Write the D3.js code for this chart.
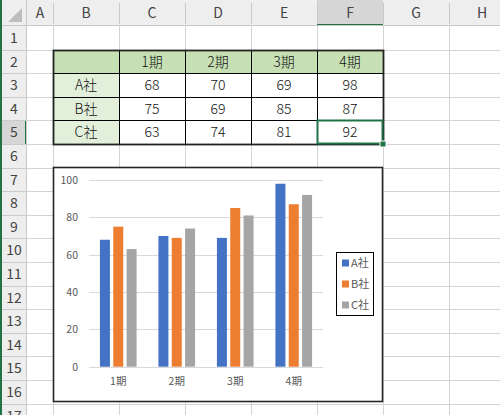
<!DOCTYPE html>
<html>
<head>
<meta charset="utf-8">
<script src="https://cdn.jsdelivr.net/npm/d3@7"></script>
<style>
  body { margin: 0; background: #fff; }
  svg text { font-family: "Noto Sans CJK JP", "Noto Sans", sans-serif; }
</style>
</head>
<body>
<svg id="sheet" width="500" height="415"></svg>
<script>
// data from the sheet
const periods = ['1期', '2期', '3期', '4期'];
const companies = ['A社', 'B社', 'C社'];
const valuesA = [68, 70, 69, 98];
const valuesB = [75, 69, 85, 87];
const valuesC = [63, 74, 81, 92];
const yTicks = [0, 20, 40, 60, 80, 100];
const colLetters = ['A', 'B', 'C', 'D', 'E', 'F', 'G', 'H'];
const rowNumbers = d3.range(1, 18);

const seriesValues = [valuesA, valuesB, valuesC];
const colors = ['#4472C4', '#ED7D31', '#A5A5A5'];

const svg = d3.select('#sheet');

// sheet grid geometry
const colEdges = [0, 27, 53, 119, 185, 251, 317, 383, 449, 515];
const headH = 26;
const rowH = 23.6;
const rowTop = i => headH + i * rowH;   // i = 0 -> row 1

// ---- cell gridlines ----
const grid = svg.append('g');
colEdges.slice(2).forEach(x => {
    grid.append('line').attr('x1', x + 0.5).attr('x2', x + 0.5)
        .attr('y1', headH).attr('y2', 415).attr('stroke', '#D4D4D4');
});
rowNumbers.forEach((r, i) => {
    grid.append('line').attr('x1', 27).attr('x2', 500)
        .attr('y1', Math.round(rowTop(i + 1)) + 0.5).attr('y2', Math.round(rowTop(i + 1)) + 0.5)
        .attr('stroke', '#D4D4D4');
});

// ---- headers ----
const head = svg.append('g');
head.append('rect').attr('x', 0).attr('y', 0).attr('width', 500).attr('height', headH).attr('fill', '#EEEEEE');
head.append('rect').attr('x', 0).attr('y', 0).attr('width', 27).attr('height', 415).attr('fill', '#EEEEEE');
// highlighted column F and row 5
head.append('rect').attr('x', colEdges[6]).attr('y', 0).attr('width', colEdges[7] - colEdges[6]).attr('height', headH).attr('fill', '#D6D6D6');
head.append('rect').attr('x', colEdges[6]).attr('y', headH - 2).attr('width', colEdges[7] - colEdges[6]).attr('height', 2).attr('fill', '#217346');
head.append('rect').attr('x', 0).attr('y', rowTop(4)).attr('width', 27).attr('height', rowH).attr('fill', '#D6D6D6');
head.append('rect').attr('x', 25).attr('y', rowTop(4)).attr('width', 2).attr('height', rowH).attr('fill', '#217346');

colLetters.forEach((c, i) => {
    const x0 = colEdges[i + 1], x1 = colEdges[i + 2];
    head.append('line').attr('x1', x1 + 0.5).attr('x2', x1 + 0.5).attr('y1', 3).attr('y2', headH - 2)
        .attr('stroke', '#CACACA');
    head.append('text').attr('x', (x0 + x1) / 2).attr('y', 18)
        .attr('text-anchor', 'middle').attr('font-size', 14).attr('fill', '#444')
        .text(c);
});
rowNumbers.forEach((r, i) => {
    head.append('line').attr('x1', 2).attr('x2', 26)
        .attr('y1', Math.round(rowTop(i + 1)) + 0.5).attr('y2', Math.round(rowTop(i + 1)) + 0.5)
        .attr('stroke', '#CACACA');
    // the last row is only half on screen, as in the sheet window
    head.append('text').attr('x', 14).attr('y', rowTop(i) + 17)
        .attr('text-anchor', 'middle').attr('font-size', 14).attr('fill', '#444')
        .text(r);
});
head.append('line').attr('x1', 0).attr('x2', 500).attr('y1', headH - 0.5).attr('y2', headH - 0.5).attr('stroke', '#C8C8C8');
head.append('line').attr('x1', 26.5).attr('x2', 26.5).attr('y1', 0).attr('y2', 415).attr('stroke', '#C8C8C8');
// corner triangle
head.append('path').attr('d', 'M22,8 L22,22 L8,22 Z').attr('fill', '#BDBDBD');
// window edge
head.append('rect').attr('x', 0).attr('y', 0).attr('width', 2).attr('height', 415).attr('fill', '#217346');

// ---- data table B2:F5 ----
const table = svg.append('g');
const tTop = Math.round(rowTop(1)), tBottom = Math.round(rowTop(5));
const rowEdges = d3.range(1, 6).map(i => Math.round(rowTop(i)));

// fills
table.append('rect').attr('x', colEdges[2]).attr('y', rowEdges[0])
    .attr('width', colEdges[7] - colEdges[2]).attr('height', rowEdges[1] - rowEdges[0]).attr('fill', '#C6E0B4');
table.append('rect').attr('x', colEdges[2]).attr('y', rowEdges[1])
    .attr('width', colEdges[3] - colEdges[2]).attr('height', rowEdges[4] - rowEdges[1]).attr('fill', '#E2EFDA');

// text
const cellText = (x, yy, t) => table.append('text').attr('x', x).attr('y', yy)
    .attr('text-anchor', 'middle').attr('font-size', 14).attr('font-weight', 300)
    .attr('fill', '#111').text(t);
periods.forEach((p, j) => {
    cellText((colEdges[3 + j] + colEdges[4 + j]) / 2, rowEdges[0] + 17, p);
});
companies.forEach((c, i) => {
    const yy = rowEdges[1 + i] + 17;
    cellText((colEdges[2] + colEdges[3]) / 2, yy, c);
    seriesValues[i].forEach((v, j) => {
        cellText((colEdges[3 + j] + colEdges[4 + j]) / 2, yy, v);
    });
});

// borders
colEdges.slice(3, 7).forEach(x => {
    table.append('line').attr('x1', x + 0.5).attr('x2', x + 0.5).attr('y1', tTop).attr('y2', tBottom)
        .attr('stroke', '#000');
});
rowEdges.slice(1, 4).forEach(yy => {
    table.append('line').attr('x1', colEdges[2]).attr('x2', colEdges[7]).attr('y1', yy + 0.5).attr('y2', yy + 0.5)
        .attr('stroke', '#000');
});
table.append('rect').attr('x', colEdges[2] + 0.5).attr('y', tTop + 0.5)
    .attr('width', colEdges[7] - colEdges[2]).attr('height', tBottom - tTop)
    .attr('fill', 'none').attr('stroke', '#222').attr('stroke-width', 1.8);

// active cell F5
table.append('rect').attr('x', colEdges[6] + 0.5).attr('y', rowEdges[3] + 0.5)
    .attr('width', colEdges[7] - colEdges[6] - 1).attr('height', rowEdges[4] - rowEdges[3] - 1)
    .attr('fill', 'none').attr('stroke', '#217346').attr('stroke-width', 2);
table.append('rect').attr('x', colEdges[7] - 3).attr('y', rowEdges[4] - 3)
    .attr('width', 6).attr('height', 6).attr('fill', '#217346').attr('stroke', '#fff').attr('stroke-width', 1);

// ---- chart ----
const chart = svg.append('g');
chart.append('rect').attr('x', 53.5).attr('y', 167.5).attr('width', 329).attr('height', 234)
    .attr('fill', '#fff').attr('stroke', '#262626').attr('stroke-width', 1.6);

const y = d3.scaleLinear().domain([0, 100]).range([366.7, 180]);
const x0 = d3.scaleBand().domain(periods).range([89, 323]).padding(0);
const x1 = d3.scaleBand().domain(companies).range([0, x0.bandwidth()])
    .paddingInner(0.25).paddingOuter(0.82);

// gridlines
chart.append('g').selectAll('line').data(yTicks).join('line')
    .attr('x1', 89).attr('x2', 323)
    .attr('y1', d => Math.round(y(d)) + 0.5).attr('y2', d => Math.round(y(d)) + 0.5)
    .attr('stroke', '#D9D9D9');

// y axis labels
const yAxis = d3.axisLeft(y).tickValues(yTicks).tickSize(0).tickPadding(0);
chart.append('g').attr('transform', 'translate(78,0)').call(yAxis)
    .call(g => g.select('.domain').remove())
    .call(g => g.selectAll('text').attr('font-size', 10.5).attr('fill', '#595959')
        .attr('font-family', '"Noto Sans CJK JP", sans-serif'));

// x axis labels
const xAxis = d3.axisBottom(x0).tickSize(0).tickPadding(0);
chart.append('g').attr('transform', 'translate(0,378)').call(xAxis)
    .call(g => g.select('.domain').remove())
    .call(g => g.selectAll('text').attr('font-size', 10.5).attr('fill', '#595959')
        .attr('font-family', '"Noto Sans CJK JP", sans-serif'));

// bars
const groups = chart.append('g').selectAll('g').data(periods).join('g')
    .attr('transform', d => `translate(${x0(d)},0)`);
groups.selectAll('rect')
    .data((p, j) => companies.map((c, i) => ({ c, i, v: seriesValues[i][j] })))
    .join('rect')
    .attr('x', d => x1(d.c))
    .attr('y', d => y(d.v))
    .attr('width', x1.bandwidth())
    .attr('height', d => y(0) - y(d.v))
    .attr('fill', d => colors[d.i]);

// legend
const legend = chart.append('g');
legend.append('rect').attr('x', 336.5).attr('y', 252.5).attr('width', 37).attr('height', 63)
    .attr('fill', '#fff').attr('stroke', '#000').attr('stroke-width', 1);
const legendY = d3.scalePoint().domain(companies).range([263, 305]);
companies.forEach((c, i) => {
    legend.append('rect').attr('x', 342).attr('y', legendY(c) - 3.5).attr('width', 7).attr('height', 7)
        .attr('fill', colors[i]);
    legend.append('text').attr('x', 351).attr('y', legendY(c) + 4)
        .attr('font-size', 11).attr('fill', '#595959').text(c);
});
</script>
</body>
</html>
